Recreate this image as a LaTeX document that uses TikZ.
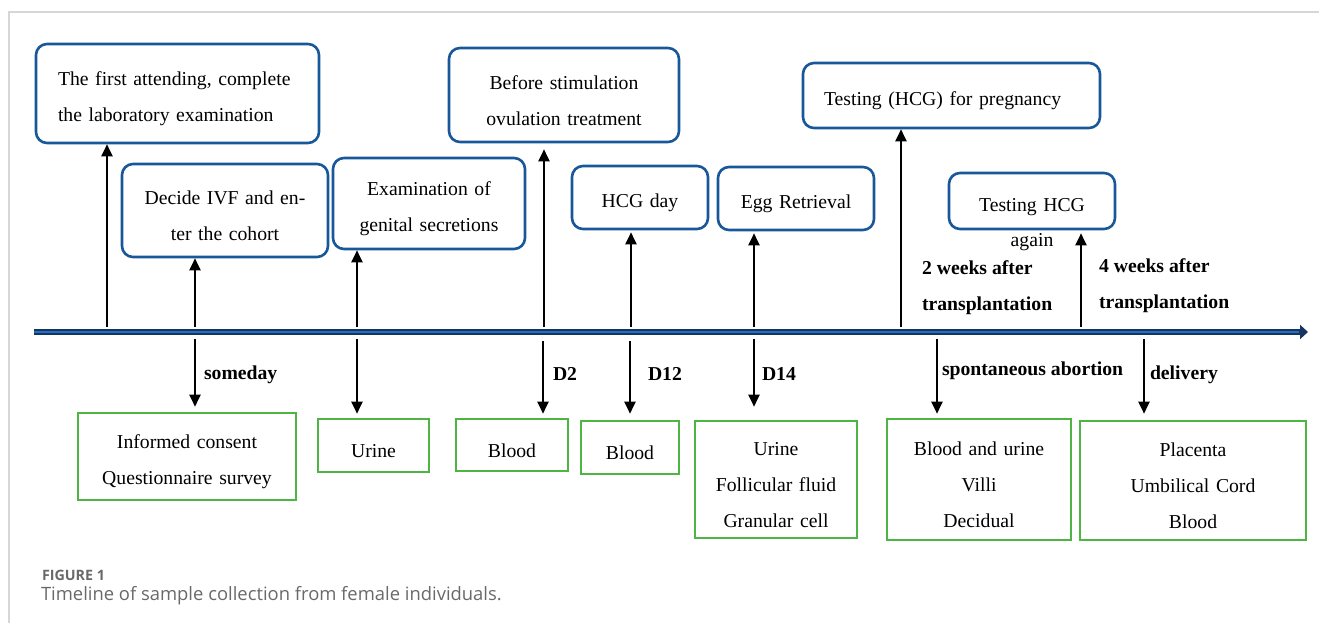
\documentclass[tikz,border=0pt]{standalone}
\usepackage{fontspec}
\setmainfont{Liberation Serif}
\newfontfamily\capfont{Open Sans}
\usepackage{tikz}
\usetikzlibrary{arrows.meta}
\usetikzlibrary{positioning}

\definecolor{boxblue}{RGB}{24,88,154}
\definecolor{boxgreen}{RGB}{78,180,68}
\definecolor{linenavy}{RGB}{22,52,96}
\definecolor{lineblue}{RGB}{32,112,196}
\definecolor{framegray}{RGB}{214,214,214}
\definecolor{capgray}{RGB}{105,105,105}

\begin{document}
\begin{tikzpicture}[x=1pt,y=-1pt,->,>={Triangle[length=12pt,width=11pt]},line width=2pt,
		every node/.style={font=\fontsize{19.7}{36}\selectfont},
		visit node/.style={draw=boxblue,line width=2.6pt,rounded corners=11pt,align=center,inner sep=0pt,
			execute at begin node={\rule{0pt}{25pt}}},
		sample node/.style={draw=boxgreen,line width=2.6pt,align=center,inner sep=0pt,
			execute at begin node={\rule{0pt}{25pt}}},
		day label/.style={font=\fontsize{19.7}{36}\selectfont\bfseries,anchor=base west,inner sep=0pt}]
		
		\useasboundingbox (0,0) rectangle (1319,623);
		\draw[-,framegray,line width=1.5pt] (9,623) -- (9,12) -- (1319,12);
		
		% visits
		\node[visit node, align=left, text width=239pt, inner xsep=22pt, minimum height=99pt] (t1) at (177.5,93.5) {The first attending, complete\\the laboratory examination};
		\node[visit node, text width=206pt, minimum height=93pt] (t2) at (225,210.5) {Decide IVF and en-\\ter the cohort};
		\node[visit node, text width=192pt, minimum height=91pt] (t3) at (429,203.5) {Examination of\\genital secretions};
		\node[visit node, text width=230pt, minimum height=94pt] (t4) at (564,95) {Before stimulation\\ovulation treatment};
		\node[visit node, text width=136pt, minimum height=63pt] (t5) at (640,197.5) {HCG day};
		\node[visit node, text width=156pt, minimum height=63pt] (t6) at (796,198.5) {Egg Retrieval};
		\node[visit node, align=left, text width=255pt, inner xsep=21pt, minimum height=65pt] (t7) at (951.5,95.5) {Testing (HCG) for pregnancy};
		\node[visit node, text width=166pt, minimum height=56pt] (t8) at (1032,201) {Testing HCG};
		\node[below=2pt of t8, inner sep=0pt] (again) {again};
		
		% samples
		\node[sample node, text width=218pt, minimum height=87pt] (s1) at (187,456.5) {Informed consent\\Questionnaire survey};
		\node[sample node, text width=111pt, minimum height=53pt] (s2) at (373.5,445.5) {Urine};
		\node[sample node, text width=112pt, minimum height=52pt] (s3) at (512,445) {Blood};
		\node[sample node, text width=98pt, minimum height=53pt] (s4) at (630,447.5) {Blood};
		\node[sample node, text width=162pt, minimum height=117pt] (s5) at (776,479.5) {Urine\\Follicular fluid\\Granular cell};
		\node[sample node, text width=184pt, minimum height=121pt] (s6) at (979,479.5) {Blood and urine\\Villi\\Decidual};
		\node[sample node, text width=226pt, minimum height=119pt] (s7) at (1193,480.5) {Placenta\\Umbilical Cord\\Blood};
		
		% timeline
		\coordinate (start) at (34,332);
		\coordinate (end) at (1308,332);
		\draw[-{Triangle[length=8pt,width=14pt]},draw=linenavy,line width=6pt] (start) -- (end);
		\draw[-,lineblue,line width=1.8pt,shorten >=9pt] (start) -- (end);
		
		\foreach \x/\n in {107/1,195/2,357/3,544/4,631/5,754/6,901/7,1081/8}
		\coordinate (u\n) at (\x,327);
		\foreach \x/\n/\y in {195/1/339,357/2/339,543/3/341,630/4/341,754/5/339,937/6/339,1144/7/339}
		\coordinate (d\n) at (\x,\y);
		
		\path
		(u1) edge (u1 |- t1.south)
		(u2) edge (u2 |- t2.south)
		(u3) edge (u3 |- t3.south)
		(u4) edge[shorten >=6pt] (u4 |- t4.south)
		(u5) edge[shorten >=2pt] (u5 |- t5.south)
		(u6) edge[shorten >=2pt] (u6 |- t6.south)
		(u7) edge (u7 |- t7.south)
		(u8) edge[shorten >=3pt] (u8 |- t8.south);
		
		\path
		(d1) edge[shorten >=5pt] (d1 |- s1.north)
		(d2) edge[shorten >=4pt] (d2 |- s2.north)
		(d3) edge[shorten >=4pt] (d3 |- s3.north)
		(d4) edge[shorten >=6pt] (d4 |- s4.north)
		(d5) edge[shorten >=13pt] (d5 |- s5.north)
		(d6) edge[shorten >=4pt] (d6 |- s6.north)
		(d7) edge[shorten >=6pt] (d7 |- s7.north);
		
		% day labels
		\node[day label] (someday) at (203,379.5) {someday};
		\node[day label] (dtwo) at (552,380) {D2};
		\node[day label] (dtwelve) at (647,380) {D12};
		\node[day label] (dfourteen) at (761,380) {D14};
		\node[day label] (abortion) at (941,375) {spontaneous abortion};
		\node[day label] (delivery) at (1149,379) {delivery};
		\node[day label, anchor=west, align=left] (twoweeks) at (921,287.5) {2 weeks after\\transplantation};
		\node[day label, anchor=west, align=left] (fourweeks) at (1098,286) {4 weeks after\\transplantation};
		
		% caption
		\node[anchor=base west, inner sep=0pt, text=capgray, font=\capfont\bfseries\fontsize{14.3}{17}\selectfont] (figlabel) at (41,580) {FIGURE 1};
		\node[anchor=base west, inner sep=0pt, text=capgray, font=\capfont\fontsize{18.4}{22}\selectfont] (caption) at (40,600) {Timeline of sample collection from female individuals.};
\end{tikzpicture}
\end{document}
